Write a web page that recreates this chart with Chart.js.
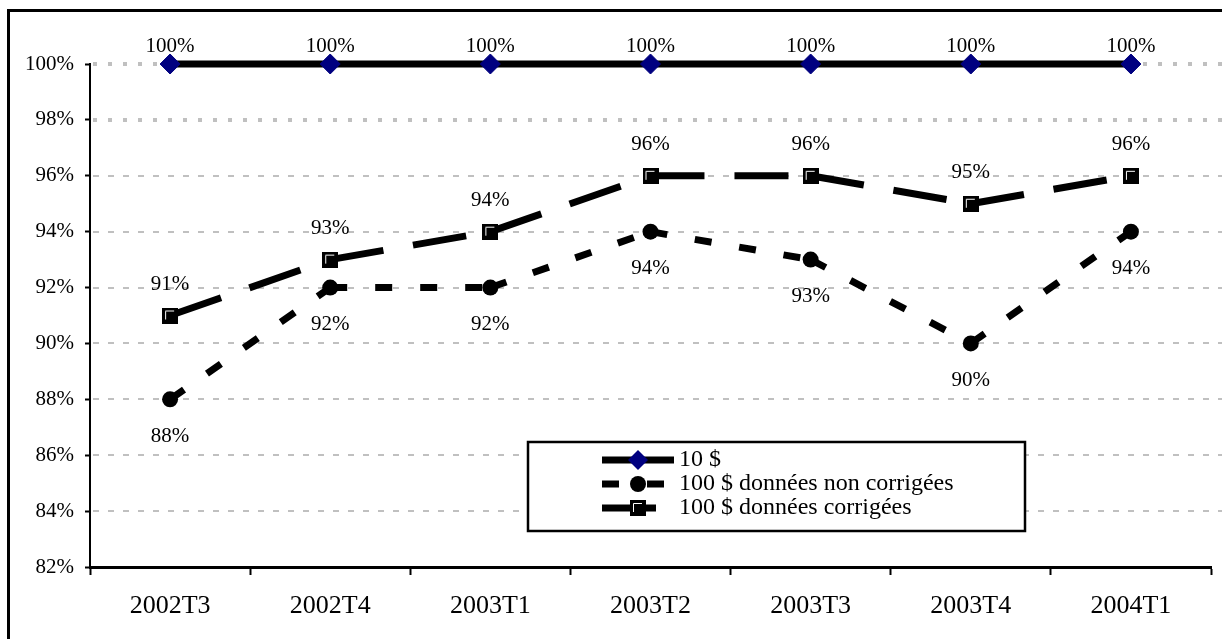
<!DOCTYPE html>
<html>
<head>
<meta charset="utf-8">
<script src="https://cdn.jsdelivr.net/npm/chart.js@4.4.0/dist/chart.umd.min.js"></script>
<style>
  html, body { margin: 0; padding: 0; background: #fff; }
  #chart { display: block; }
</style>
</head>
<body>
<canvas id="chart" width="1222" height="639"></canvas>
<script>
// Data
const categories = ["2002T3", "2002T4", "2003T1", "2003T2", "2003T3", "2003T4", "2004T1"];
const seriesNames = ["10 $", "100 $ données non corrigées", "100 $ données corrigées"];
const values10 = [100, 100, 100, 100, 100, 100, 100];
const values100Raw = [88, 92, 92, 94, 93, 90, 94];
const values100Corrected = [91, 93, 94, 96, 96, 95, 96];
const yMin = 82;
const yMax = 100;
const yStep = 2;

const SERIF = "'Liberation Serif', 'Times New Roman', serif";

// Square marker with the white bevel seen in the reference
function makeSquareMarker() {
  const c = document.createElement("canvas");
  c.width = 16;
  c.height = 16;
  const g = c.getContext("2d");
  g.fillStyle = "#000";
  g.fillRect(0, 0, 16, 16);
  g.strokeStyle = "#fff";
  g.lineWidth = 1;
  g.beginPath();
  g.moveTo(3.5, 12);
  g.lineTo(3.5, 3.5);
  g.lineTo(12, 3.5);
  g.stroke();
  return c;
}
const squareMarker = makeSquareMarker();

// restart the dash pattern at every point, like the original
const perSegmentDash = {
  borderDashOffset: (c) => c.p0DataIndex * 0.01,
};

// Outer frame (only top and left edges fall inside the picture)
const framePlugin = {
  id: "frame",
  beforeDraw(chart) {
    const ctx = chart.ctx;
    ctx.save();
    ctx.fillStyle = "#fff";
    ctx.fillRect(0, 0, chart.width, chart.height);
    ctx.strokeStyle = "#000";
    ctx.lineWidth = 3;
    ctx.beginPath();
    ctx.moveTo(8.5, chart.height + 5);
    ctx.lineTo(8.5, 10.5);
    ctx.lineTo(chart.width + 5, 10.5);
    ctx.stroke();
    ctx.restore();
  },
};

// Grey dashed grid lines (dotted for the two top lines)
const gridPlugin = {
  id: "dashedGrid",
  beforeDatasetsDraw(chart) {
    const { ctx, chartArea, scales } = chart;
    const y = scales.y;
    y.ticks.forEach((t) => {
      if (t.value <= yMin) return;
      const py = Math.round(y.getPixelForValue(t.value));
      const dotted = t.value >= 98;
      ctx.save();
      ctx.strokeStyle = "#c0c0c0";
      ctx.lineWidth = dotted ? 4 : 2;
      ctx.setLineDash(dotted ? [4, 11] : [6, 9]);
      ctx.beginPath();
      ctx.moveTo(chartArea.left + 3, py);
      ctx.lineTo(chart.width, py);
      ctx.stroke();
      ctx.restore();
    });
  },
};

// Value labels: above for "10 $" and "corrigées", below for "non corrigées"
const labelOffsets = [-18, 37, -31];
const valueLabelPlugin = {
  id: "valueLabels",
  afterDatasetsDraw(chart) {
    const ctx = chart.ctx;
    ctx.save();
    ctx.font = "21px " + SERIF;
    ctx.fillStyle = "#000";
    ctx.textAlign = "center";
    ctx.textBaseline = "middle";
    chart.data.datasets.forEach((ds, i) => {
      const meta = chart.getDatasetMeta(i);
      meta.data.forEach((pt, j) => {
        ctx.fillText(ds.data[j] + "%", pt.x, pt.y + labelOffsets[i]);
      });
    });
    ctx.restore();
  },
};

function drawMarker(ctx, ds, x, y) {
  const style = ds.pointStyle;
  const r = ds.pointRadius;
  ctx.save();
  ctx.fillStyle = ds.pointBackgroundColor;
  if (style === "circle") {
    ctx.beginPath();
    ctx.arc(x, y, r, 0, Math.PI * 2);
    ctx.fill();
  } else if (style === "rectRot") {
    ctx.beginPath();
    ctx.moveTo(x, y - r);
    ctx.lineTo(x + r, y);
    ctx.lineTo(x, y + r);
    ctx.lineTo(x - r, y);
    ctx.closePath();
    ctx.fill();
  } else if (style instanceof HTMLCanvasElement) {
    ctx.drawImage(style, x - style.width / 2, y - style.height / 2);
  }
  ctx.restore();
}

// Boxed legend inside the plot, as in the original
const boxLegendPlugin = {
  id: "boxLegend",
  afterDatasetsDraw(chart) {
    const ctx = chart.ctx;
    const box = { x: 528, y: 442, w: 497, h: 89 };
    ctx.save();
    ctx.fillStyle = "#fff";
    ctx.fillRect(box.x, box.y, box.w, box.h);
    ctx.strokeStyle = "#000";
    ctx.lineWidth = 2.5;
    ctx.strokeRect(box.x, box.y, box.w, box.h);

    chart.data.datasets.forEach((ds, i) => {
      const rowY = 460 + i * 24;
      ctx.save();
      ctx.strokeStyle = ds.borderColor;
      ctx.lineWidth = ds.borderWidth;
      ctx.setLineDash(ds.borderDash || []);
      ctx.beginPath();
      ctx.moveTo(602, rowY);
      ctx.lineTo(674, rowY);
      ctx.stroke();
      ctx.restore();
      drawMarker(ctx, ds, 638, rowY);

      ctx.fillStyle = "#000";
      ctx.font = "24px " + SERIF;
      ctx.textAlign = "left";
      ctx.textBaseline = "middle";
      ctx.fillText(ds.label, 679, rowY);
    });
    ctx.restore();
  },
};

const ctx = document.getElementById("chart").getContext("2d");

new Chart(ctx, {
  type: "line",
  data: {
    labels: categories,
    datasets: [
      {
        label: seriesNames[0],
        data: values10,
        borderColor: "#000",
        borderWidth: 7,
        borderDash: [],
        pointStyle: "rectRot",
        pointRadius: 10,
        pointBackgroundColor: "#000080",
        pointBorderColor: "#000080",
        pointBorderWidth: 1,
        order: 0,
        clip: false,
        tension: 0,
      },
      {
        label: seriesNames[1],
        data: values100Raw,
        borderColor: "#000",
        borderWidth: 7,
        borderDash: [17, 28],
        segment: perSegmentDash,
        pointStyle: "circle",
        pointRadius: 8,
        pointBackgroundColor: "#000",
        pointBorderColor: "#000",
        pointBorderWidth: 0,
        order: 2,
        clip: false,
        tension: 0,
      },
      {
        label: seriesNames[2],
        data: values100Corrected,
        borderColor: "#000",
        borderWidth: 7,
        borderDash: [54, 30],
        segment: perSegmentDash,
        pointStyle: squareMarker,
        pointRadius: 8,
        pointBackgroundColor: "#000",
        pointBorderColor: "#000",
        pointBorderWidth: 0,
        order: 1,
        clip: false,
        tension: 0,
      },
    ],
  },
  options: {
    responsive: false,
    animation: false,
    devicePixelRatio: 1,
    layout: {
      padding: { top: 64, left: 0, right: 5, bottom: 0 },
    },
    plugins: {
      legend: { display: false },
      tooltip: { enabled: false },
    },
    scales: {
      x: {
        offset: true,
        grid: {
          offset: true,
          drawOnChartArea: false,
          drawTicks: true,
          tickLength: 8,
          tickColor: "#000",
          tickWidth: 2,
        },
        border: { display: true, color: "#000", width: 3 },
        ticks: {
          color: "#000",
          font: { family: SERIF, size: 26 },
          padding: 16,
          maxRotation: 0,
        },
        afterFit: (scale) => {
          scale.height = 72;
        },
      },
      y: {
        min: yMin,
        max: yMax,
        grid: {
          drawOnChartArea: false,
          drawTicks: true,
          tickLength: 5,
          tickColor: "#000",
          tickWidth: 2,
        },
        border: { display: true, color: "#000", width: 2 },
        ticks: {
          stepSize: yStep,
          color: "#000",
          font: { family: SERIF, size: 21 },
          padding: 11,
          callback: (v) => v + "%",
        },
        afterFit: (scale) => {
          scale.width = 90;
        },
      },
    },
  },
  plugins: [framePlugin, gridPlugin, valueLabelPlugin, boxLegendPlugin],
});
</script>
</body>
</html>
